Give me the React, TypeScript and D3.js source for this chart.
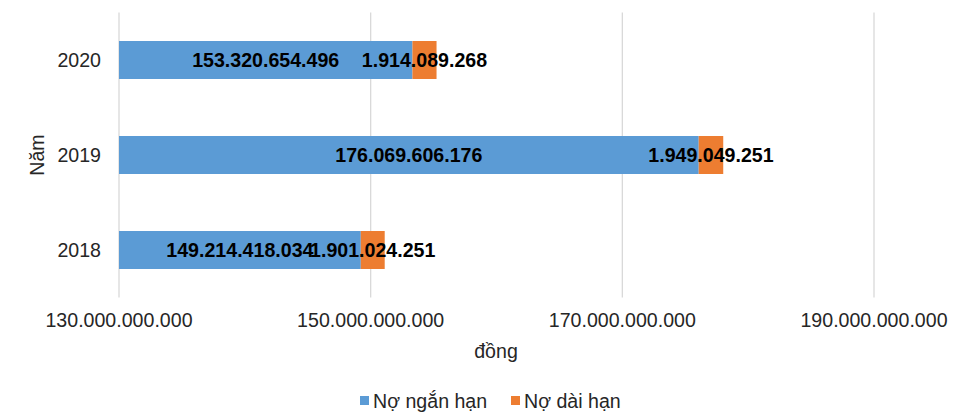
import React, { useEffect, useRef } from 'react';
import * as d3 from 'd3';

const years = ['2020', '2019', '2018'];
const shortTerm = [153320654496, 176069606176, 149214418034];
const longTerm = [1914089268, 1949049251, 1901024251];
const xTicks = [130000000000, 150000000000, 170000000000, 190000000000];
const seriesNames = ['Nợ ngắn hạn', 'Nợ dài hạn'];
const colors = ['#5b9bd5', '#ed7d31'];

const fmt = (v: number) => Math.round(v).toString().replace(/\B(?=(\d{3})+(?!\d))/g, '.');

const App = () => {
  const svgRef = useRef<SVGSVGElement>(null);

  useEffect(() => {
    const width = 966;
    const height = 414;
    const font = 'Liberation Sans, Arial, sans-serif';
    const fs = 19.6;

    const svg = d3.select(svgRef.current);
    svg.selectAll('*').remove();
    svg.attr('width', width).attr('height', height);

    const x = d3.scaleLinear().domain([130000000000, 190000000000]).range([119, 874]);
    const y = d3.scaleBand().domain(years).range([12.5, 297.5]).paddingInner(0.6).paddingOuter(0.3);

    // gridlines
    svg.append('g')
      .selectAll('line')
      .data(xTicks)
      .enter()
      .append('line')
      .attr('x1', d => x(d))
      .attr('x2', d => x(d))
      .attr('y1', 12.5)
      .attr('y2', 297.5)
      .attr('stroke', '#d9d9d9')
      .attr('stroke-width', 1.3);

    const rows = years.map((yr, i) => ({
      yr,
      s: shortTerm[i],
      l: longTerm[i]
    }));

    // bars
    const g = svg.append('g');
    g.selectAll('.short')
      .data(rows)
      .enter()
      .append('rect')
      .attr('x', x(130000000000))
      .attr('y', d => y(d.yr)!)
      .attr('width', d => x(d.s) - x(130000000000))
      .attr('height', y.bandwidth())
      .attr('fill', colors[0]);

    g.selectAll('.long')
      .data(rows)
      .enter()
      .append('rect')
      .attr('x', d => x(d.s))
      .attr('y', d => y(d.yr)!)
      .attr('width', d => x(d.s + d.l) - x(d.s))
      .attr('height', y.bandwidth())
      .attr('fill', colors[1]);

    // value labels
    const lab = svg.append('g')
      .attr('font-family', font)
      .attr('font-size', fs)
      .attr('font-weight', 'bold')
      .attr('fill', '#000')
      .attr('text-anchor', 'middle');

    lab.selectAll('.ls')
      .data(rows)
      .enter()
      .append('text')
      .attr('x', d => (x(130000000000) + x(d.s)) / 2)
      .attr('y', d => y(d.yr)! + y.bandwidth() / 2)
      .attr('dy', '0.36em')
      .text(d => fmt(d.s));

    lab.selectAll('.ll')
      .data(rows)
      .enter()
      .append('text')
      .attr('x', d => (x(d.s) + x(d.s + d.l)) / 2)
      .attr('y', d => y(d.yr)! + y.bandwidth() / 2)
      .attr('dy', '0.36em')
      .text(d => fmt(d.l));

    // category labels
    svg.append('g')
      .attr('font-family', font)
      .attr('font-size', fs)
      .attr('fill', '#262626')
      .attr('text-anchor', 'end')
      .selectAll('text')
      .data(years)
      .enter()
      .append('text')
      .attr('x', 101)
      .attr('y', d => y(d)! + y.bandwidth() / 2)
      .attr('dy', '0.36em')
      .text(d => d);

    // x tick labels
    svg.append('g')
      .attr('font-family', font)
      .attr('font-size', fs)
      .attr('fill', '#262626')
      .attr('text-anchor', 'middle')
      .selectAll('text')
      .data(xTicks)
      .enter()
      .append('text')
      .attr('x', d => x(d))
      .attr('y', 327)
      .text(d => fmt(d));

    // axis titles
    svg.append('text')
      .attr('x', 496)
      .attr('y', 358)
      .attr('text-anchor', 'middle')
      .attr('font-family', font)
      .attr('font-size', fs)
      .attr('fill', '#262626')
      .text('đồng');

    svg.append('text')
      .attr('transform', 'rotate(-90)')
      .attr('x', -155)
      .attr('y', 44)
      .attr('text-anchor', 'middle')
      .attr('font-family', font)
      .attr('font-size', fs)
      .attr('fill', '#262626')
      .text('Năm');

    // legend
    const legendX = [360, 511];
    const leg = svg.append('g')
      .attr('font-family', font)
      .attr('font-size', fs)
      .attr('fill', '#262626');
    seriesNames.forEach((name, i) => {
      leg.append('rect')
        .attr('x', legendX[i])
        .attr('y', 396)
        .attr('width', 9)
        .attr('height', 9)
        .attr('fill', colors[i]);
      leg.append('text')
        .attr('x', legendX[i] + 13)
        .attr('y', 408)
        .text(name);
    });
  }, []);

  return (
    <svg ref={svgRef} style={{ position: 'absolute', left: 0, top: 0, display: 'block' }}></svg>
  );
};

export default App;
